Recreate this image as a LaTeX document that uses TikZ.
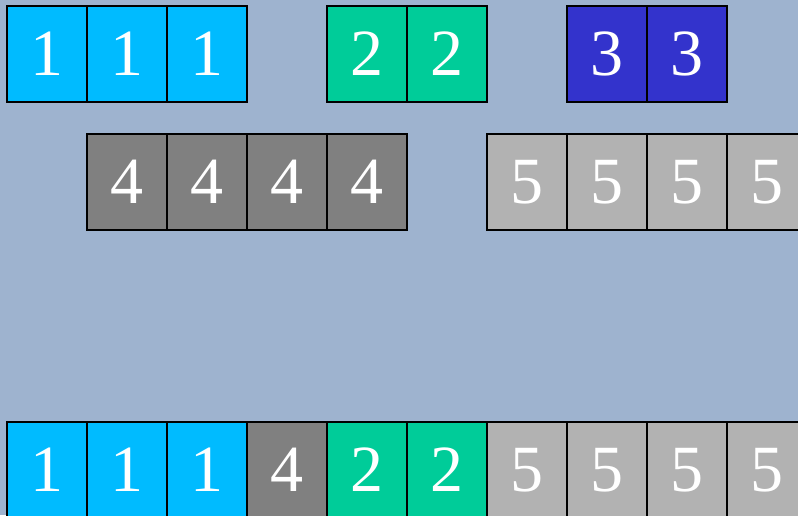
\documentclass[tikz,border=0pt]{standalone}
\usepackage{fontspec}
\setmainfont{Liberation Serif}
\definecolor{bgc}{HTML}{9EB3CF}
\definecolor{cA}{HTML}{00BBFF}
\definecolor{cB}{HTML}{00CC99}
\definecolor{cC}{HTML}{3333CC}
\definecolor{cD}{HTML}{808080}
\definecolor{cE}{HTML}{B2B2B2}
\tikzset{
  cell/.style={draw=black, line width=2pt, minimum width=80pt, minimum height=96pt,
    inner sep=0pt, outer sep=0pt, anchor=north west, text=white,
    font=\fontsize{66}{66}\selectfont},
  one/.style={cell, fill=cA},
  two/.style={cell, fill=cB},
  three/.style={cell, fill=cC},
  four/.style={cell, fill=cD},
  five/.style={cell, fill=cE}
}
\begin{document}
\begin{tikzpicture}[x=1pt,y=-1pt]
\useasboundingbox (0,0) rectangle (798,515);
\fill[bgc] (0,0) rectangle (798,515);
\clip (0,0) rectangle (798,515);
% row 1
\node[one] (a1) at (7,6) {1};
\node[one] (a2) at (87,6) {1};
\node[one] (a3) at (167,6) {1};
\node[two] (b1) at (327,6) {2};
\node[two] (b2) at (407,6) {2};
\node[three] (c1) at (567,6) {3};
\node[three] (c2) at (647,6) {3};
% row 2
\node[four] (d1) at (87,134) {4};
\node[four] (d2) at (167,134) {4};
\node[four] (d3) at (247,134) {4};
\node[four] (d4) at (327,134) {4};
\node[five] (e1) at (487,134) {5};
\node[five] (e2) at (567,134) {5};
\node[five] (e3) at (647,134) {5};
\node[five] (e4) at (727,134) {5};
% bottom row
\node[one] (f1) at (7,422) {1};
\node[one] (f2) at (87,422) {1};
\node[one] (f3) at (167,422) {1};
\node[four] (f4) at (247,422) {4};
\node[two] (f5) at (327,422) {2};
\node[two] (f6) at (407,422) {2};
\node[five] (f7) at (487,422) {5};
\node[five] (f8) at (567,422) {5};
\node[five] (f9) at (647,422) {5};
\node[five] (f10) at (727,422) {5};
\end{tikzpicture}
\end{document}
